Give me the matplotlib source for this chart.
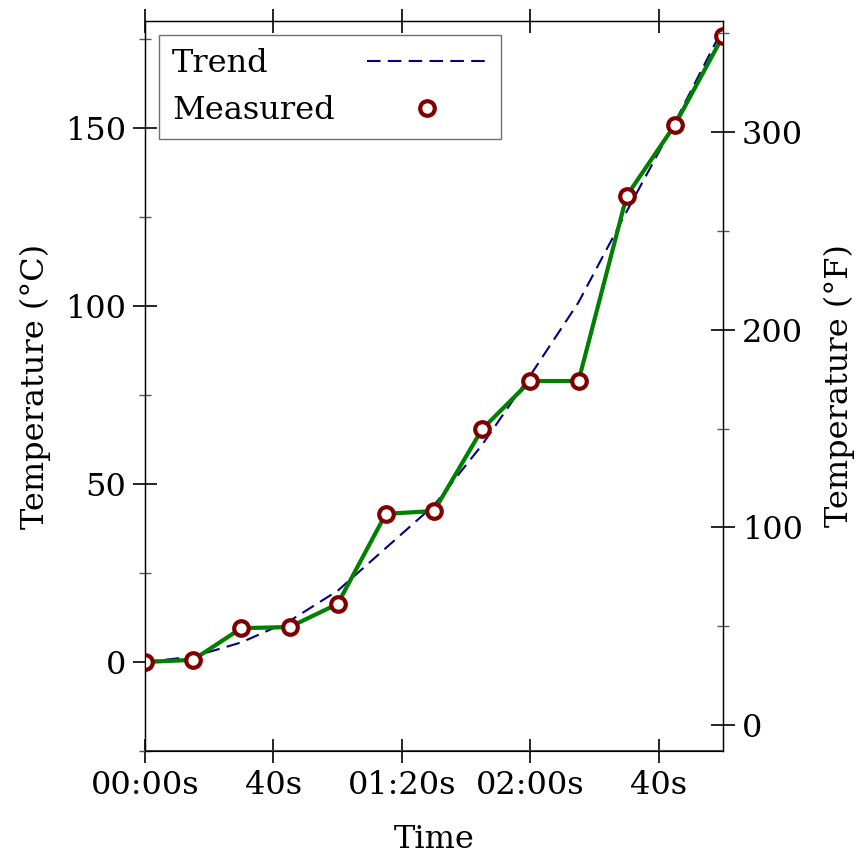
import matplotlib
matplotlib.use("Agg")
import matplotlib.pyplot as plt
from matplotlib.ticker import MultipleLocator

# time in seconds
times = [0, 15, 30, 45, 60, 75, 90, 105, 120, 135, 150, 165, 180]
measured = [0.0, 0.6, 9.5, 9.8, 16.3, 41.6, 42.4, 65.4, 78.9, 78.9, 130.9, 150.8, 175.8]
trend = [0.0, 1.5, 5.5, 11.5, 20.0, 32.0, 44.0, 61.0, 80.5, 101.0, 126.5, 151.5, 178.0]

x_ticks = [0, 40, 80, 120, 160]
x_ticklabels = ["00:00s", "40s", "01:20s", "02:00s", "40s"]

plt.rcParams['font.family'] = 'DejaVu Serif'
plt.rcParams['font.size'] = 23

fig = plt.figure(figsize=(8.59, 8.58), dpi=100)
ax = fig.add_axes([145/859, 1 - 751/858, (723-145)/859, (751-21)/858])

ax.plot(times, trend, color='#000080', lw=1.5, dashes=(6.5, 3.5), label='Trend', zorder=2)
ax.plot(times, measured, color='#008000', lw=3, zorder=3)
ax.plot(times, measured, ls='none', marker='o', ms=10.5, mfc='white', mec='#800000',
        mew=3, label='Measured', zorder=4)

ax.set_xlim(0, 180)
ax.set_ylim(-25, 180)
ax.set_xticks(x_ticks)
ax.set_xticklabels(x_ticklabels)
ax.yaxis.set_major_locator(MultipleLocator(50))
ax.yaxis.set_minor_locator(MultipleLocator(25))
ax.tick_params(axis='both', which='major', direction='inout', length=17, width=1.2, pad=5)
ax.tick_params(axis='y', which='minor', direction='inout', length=8.5, width=1.0, color='#555555')
ax.tick_params(axis='x', top=True)
ax.set_xlabel('Time', labelpad=17)
ax.set_ylabel('Temperature (°C)', labelpad=10)
for s in ax.spines.values():
    s.set_linewidth(1.0)
ax.spines['bottom'].set_color('#444444')
ax.spines['bottom'].set_linewidth(1.5)

ax2 = ax.twinx()
ax2.set_ylim(-25 * 9 / 5 + 32, 180 * 9 / 5 + 32)
ax2.yaxis.set_major_locator(MultipleLocator(100))
ax2.yaxis.set_minor_locator(MultipleLocator(50))
ax2.tick_params(axis='y', which='major', direction='inout', length=17, width=1.2, pad=5)
ax2.tick_params(axis='y', which='minor', direction='inout', length=8.5, width=1.0, color='#555555')
ax2.set_ylabel('Temperature (°F)', labelpad=15)

leg = ax.legend(loc='upper left', markerfirst=False, numpoints=1, fancybox=False,
                framealpha=1, edgecolor='#707070', borderaxespad=0.45,
                handlelength=3.8, handletextpad=1.0, borderpad=0.4, labelspacing=0.5)
leg.get_frame().set_linewidth(1.0)

# left-align legend labels while keeping handles in one column
fig.canvas.draw()
renderer = fig.canvas.get_renderer()
col = leg._legend_handle_box.get_children()[0]
col.align = 'left'
widths = [t.get_window_extent(renderer).width for t in leg.get_texts()]
for row, w in zip(col.get_children(), widths):
    row.sep += (max(widths) - w) * 72 / fig.dpi

fig.savefig('out.png', dpi=100)
